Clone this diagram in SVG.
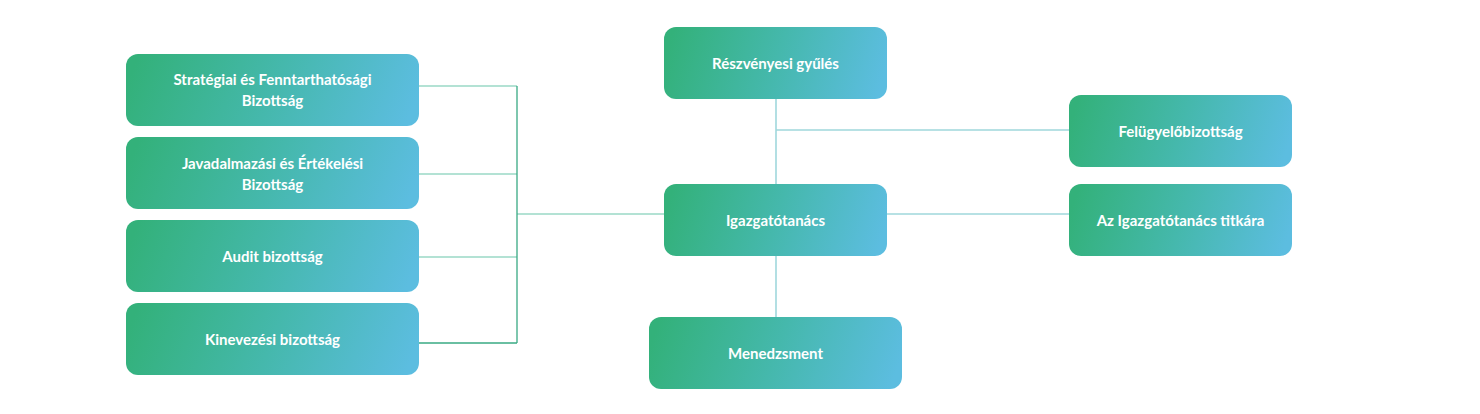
<svg xmlns="http://www.w3.org/2000/svg" width="1480" height="414" viewBox="0 0 1480 414">
<defs>
<linearGradient id="g" x1="0" y1="0.45" x2="1" y2="0.55">
<stop offset="0" stop-color="#33b17a"/>
<stop offset="0.5" stop-color="#45b8ac"/>
<stop offset="1" stop-color="#5cbde0"/>
</linearGradient>
<style>
.n{fill:url(#g);}
.t{font-family:Lato,"Source Sans Pro","Noto Sans",sans-serif;font-weight:700;font-size:15px;fill:#ffffff;text-anchor:middle;}
.l{stroke:#9bd9c6;stroke-width:1.6;fill:none;}
.lb{stroke:#a0d8dc;stroke-width:1.6;fill:none;}
.d{stroke:#3aaa84;stroke-width:1.3;fill:none;}
</style>
</defs>
<rect width="1480" height="414" fill="#ffffff"/>
<g id="connectors">
<path class="l" d="M419 86H517M419 174H517M419 257H517M517 214H664"/>
<path class="d" d="M517 86V343M419 343H517"/>
<path class="lb" d="M776 99V184M776 256V317M776 130H1069M887 214H1069"/>
</g>
<g id="n-strat"><rect class="n" x="126" y="54" width="293" height="72" rx="12"/><text class="t" x="272.5" y="85">Stratégiai és Fenntarthatósági</text><text class="t" x="272.5" y="106">Bizottság</text></g>
<g id="n-java"><rect class="n" x="126" y="137" width="293" height="72" rx="12"/><text class="t" x="272.5" y="169">Javadalmazási és Értékelési</text><text class="t" x="272.5" y="190">Bizottság</text></g>
<g id="n-audit"><rect class="n" x="126" y="220" width="293" height="72" rx="12"/><text class="t" x="272.5" y="261.5">Audit bizottság</text></g>
<g id="n-kinev"><rect class="n" x="126" y="303" width="293" height="72" rx="12"/><text class="t" x="272.5" y="344.5">Kinevezési bizottság</text></g>
<g id="n-reszv"><rect class="n" x="664" y="27" width="223" height="72" rx="12"/><text class="t" x="775.5" y="68.5">Részvényesi gyűlés</text></g>
<g id="n-igaz"><rect class="n" x="664" y="184" width="223" height="72" rx="12"/><text class="t" x="775.5" y="225.5">Igazgatótanács</text></g>
<g id="n-mened"><rect class="n" x="649" y="317" width="253" height="72" rx="12"/><text class="t" x="775.5" y="358.5">Menedzsment</text></g>
<g id="n-felu"><rect class="n" x="1069" y="95" width="223" height="72" rx="12"/><text class="t" x="1180.5" y="136.5">Felügyelőbizottság</text></g>
<g id="n-titk"><rect class="n" x="1069" y="184" width="223" height="72" rx="12"/><text class="t" x="1180.5" y="225.5">Az Igazgatótanács titkára</text></g>
</svg>
